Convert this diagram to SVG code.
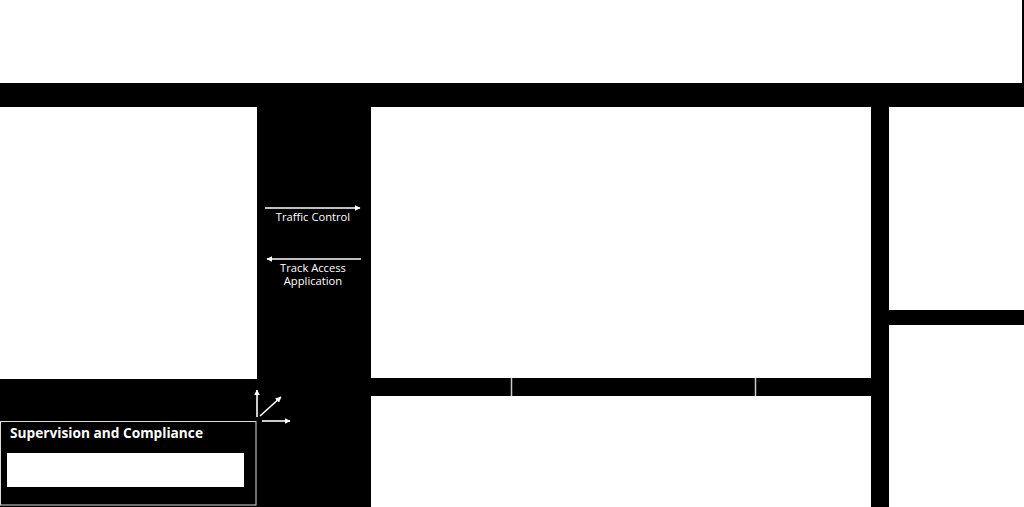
<svg xmlns="http://www.w3.org/2000/svg" width="1024" height="507" viewBox="0 0 1024 507">
<style>
.panel{fill:#ffffff}
.lbl{font-family:"Open Sans","Liberation Sans",sans-serif;font-size:11.2px;fill:#ffffff;text-anchor:middle}
.ttl{font-family:"Open Sans","Liberation Sans",sans-serif;font-size:13.7px;font-weight:bold;fill:#ffffff}
.arr{stroke:#ffffff;stroke-width:1.6;fill:none}
</style>
<defs>
<marker id="ah" viewBox="0 0 10 10" refX="9" refY="5" markerWidth="6" markerHeight="6" orient="auto" markerUnits="userSpaceOnUse">
<path d="M0,0 L10,5 L0,10 z" fill="#ffffff"/>
</marker>
</defs>
<rect x="0" y="0" width="1024" height="507" fill="#000000"/>
<g id="top-panel"><rect class="panel" x="0" y="0" width="1022" height="83"/></g>
<g id="left-panel"><rect class="panel" x="0" y="107" width="257" height="272"/></g>
<g id="center-panel"><rect class="panel" x="371" y="107" width="500" height="271"/></g>
<g id="lower-center-panel"><rect class="panel" x="371" y="396" width="500" height="111"/></g>
<g id="right-top-panel"><rect class="panel" x="889" y="107" width="135" height="203"/></g>
<g id="right-bottom-panel"><rect class="panel" x="889" y="325" width="135" height="182"/></g>
<g id="dividers">
<line x1="511.5" y1="378" x2="511.5" y2="396" stroke="#cccccc" stroke-width="1.5"/>
<line x1="755.5" y1="378" x2="755.5" y2="396" stroke="#cccccc" stroke-width="1.5"/>
</g>
<g id="supervision">
<rect x="0.5" y="421.5" width="255.5" height="83.5" fill="none" stroke="#dddddd" stroke-width="1"/>
<text class="ttl" x="10" y="438">Supervision and Compliance</text>
<rect class="panel" x="7" y="453" width="237" height="34"/>
</g>
<g id="connectors">
<line class="arr" x1="265" y1="208" x2="360" y2="208" marker-end="url(#ah)"/>
<text class="lbl" x="313" y="221">Traffic Control</text>
<line class="arr" x1="361" y1="259" x2="267" y2="259" marker-end="url(#ah)"/>
<text class="lbl" x="313" y="272">Track Access</text>
<text class="lbl" x="313" y="285">Application</text>
<line class="arr" x1="257" y1="417" x2="257" y2="390" marker-end="url(#ah)"/>
<line class="arr" x1="260" y1="416" x2="281" y2="397" marker-end="url(#ah)"/>
<line class="arr" x1="262" y1="421" x2="290" y2="421" marker-end="url(#ah)"/>
</g>
</svg>
